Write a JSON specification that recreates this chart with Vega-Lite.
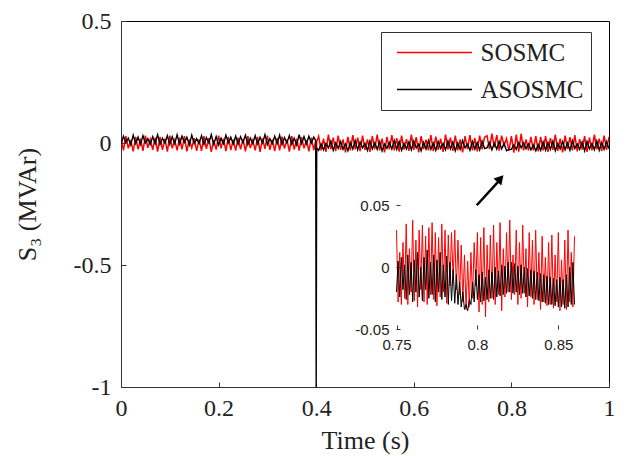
{
  "$schema": "https://vega.github.io/schema/vega-lite/v6.json",
  "width": 488,
  "height": 366,
  "autosize": "none",
  "padding": {"left": 121, "top": 21, "right": 17, "bottom": 69},
  "background": "white",
  "config": {"view": {"stroke": "black", "strokeWidth": 1}, "font": "Liberation Serif"},
  "data": {"values": [
{"t":0.000,"S":0.020,"A":-0.004},{"t":0.005,"S":-0.030,"A":0.028},{"t":0.010,"S":0.028,"A":0.002},{"t":0.015,"S":-0.022,"A":0.020},
{"t":0.020,"S":0.012,"A":-0.008},{"t":0.025,"S":-0.034,"A":0.032},{"t":0.030,"S":0.025,"A":-0.002},{"t":0.035,"S":-0.026,"A":0.024},
{"t":0.040,"S":0.018,"A":-0.006},{"t":0.045,"S":-0.032,"A":0.030},{"t":0.050,"S":0.030,"A":0.000},{"t":0.055,"S":-0.020,"A":0.018},
{"t":0.060,"S":0.015,"A":-0.005},{"t":0.065,"S":-0.028,"A":0.026},{"t":0.070,"S":0.022,"A":-0.003},{"t":0.075,"S":-0.035,"A":0.034},
{"t":0.080,"S":0.025,"A":-0.006},{"t":0.085,"S":-0.028,"A":0.020},{"t":0.090,"S":0.018,"A":0.000},{"t":0.095,"S":-0.035,"A":0.030},
{"t":0.100,"S":0.030,"A":-0.005},{"t":0.105,"S":-0.022,"A":0.026},{"t":0.110,"S":0.012,"A":-0.003},{"t":0.115,"S":-0.030,"A":0.034},
{"t":0.120,"S":0.022,"A":-0.004},{"t":0.125,"S":-0.026,"A":0.028},{"t":0.130,"S":0.028,"A":0.002},{"t":0.135,"S":-0.034,"A":0.024},
{"t":0.140,"S":0.015,"A":-0.008},{"t":0.145,"S":-0.020,"A":0.032},{"t":0.150,"S":0.020,"A":-0.002},{"t":0.155,"S":-0.032,"A":0.018},
{"t":0.160,"S":0.015,"A":-0.002},{"t":0.165,"S":-0.032,"A":0.030},{"t":0.170,"S":0.028,"A":-0.006},{"t":0.175,"S":-0.024,"A":0.022},
{"t":0.180,"S":0.020,"A":0.001},{"t":0.185,"S":-0.036,"A":0.034},{"t":0.190,"S":0.012,"A":-0.005},{"t":0.195,"S":-0.027,"A":0.026},
{"t":0.200,"S":0.030,"A":-0.008},{"t":0.205,"S":-0.022,"A":0.020},{"t":0.210,"S":0.018,"A":-0.003},{"t":0.215,"S":-0.033,"A":0.032},
{"t":0.220,"S":0.025,"A":0.000},{"t":0.225,"S":-0.029,"A":0.024},{"t":0.230,"S":0.014,"A":-0.004},{"t":0.235,"S":-0.031,"A":0.028},
{"t":0.240,"S":0.022,"A":-0.005},{"t":0.245,"S":-0.026,"A":0.026},{"t":0.250,"S":0.016,"A":0.002},{"t":0.255,"S":-0.034,"A":0.032},
{"t":0.260,"S":0.028,"A":-0.007},{"t":0.265,"S":-0.021,"A":0.020},{"t":0.270,"S":0.012,"A":-0.002},{"t":0.275,"S":-0.030,"A":0.030},
{"t":0.280,"S":0.025,"A":-0.004},{"t":0.285,"S":-0.036,"A":0.024},{"t":0.290,"S":0.019,"A":0.000},{"t":0.295,"S":-0.024,"A":0.034},
{"t":0.300,"S":0.030,"A":-0.006},{"t":0.305,"S":-0.028,"A":0.018},{"t":0.310,"S":0.015,"A":-0.003},{"t":0.315,"S":-0.033,"A":0.028},
{"t":0.320,"S":0.020,"A":-0.002},{"t":0.325,"S":-0.030,"A":0.032},{"t":0.330,"S":0.026,"A":-0.006},{"t":0.335,"S":-0.023,"A":0.022},
{"t":0.340,"S":0.014,"A":0.001},{"t":0.345,"S":-0.035,"A":0.030},{"t":0.350,"S":0.028,"A":-0.005},{"t":0.355,"S":-0.027,"A":0.020},
{"t":0.360,"S":0.018,"A":-0.008},{"t":0.365,"S":-0.031,"A":0.034},{"t":0.370,"S":0.024,"A":-0.003},{"t":0.375,"S":-0.022,"A":0.026},
{"t":0.380,"S":0.012,"A":-0.004},{"t":0.385,"S":-0.034,"A":0.028},{"t":0.390,"S":0.022,"A":0.000},{"t":0.395,"S":-0.029,"A":0.024},
{"t":0.399,"S":0.010,"A":0.010},{"t":0.400,"S":-0.080,"A":-1.000},{"t":0.401,"S":0.005,"A":-0.020},
{"t":0.405,"S":0.028,"A":-0.030},{"t":0.410,"S":-0.030,"A":-0.004},{"t":0.415,"S":0.018,"A":-0.028},{"t":0.420,"S":-0.036,"A":-0.002},
{"t":0.425,"S":0.034,"A":-0.020},{"t":0.430,"S":-0.025,"A":0.008},{"t":0.435,"S":0.022,"A":-0.030},{"t":0.440,"S":-0.033,"A":0.000},
{"t":0.445,"S":0.030,"A":-0.022},{"t":0.450,"S":-0.028,"A":0.006},{"t":0.455,"S":0.015,"A":-0.026},{"t":0.460,"S":-0.038,"A":-0.004},
{"t":0.465,"S":0.025,"A":-0.032},{"t":0.470,"S":-0.030,"A":0.002},{"t":0.475,"S":0.032,"A":-0.025},{"t":0.480,"S":-0.026,"A":0.010},
{"t":0.485,"S":0.022,"A":-0.028},{"t":0.490,"S":-0.033,"A":0.004},{"t":0.495,"S":0.030,"A":-0.020},{"t":0.500,"S":-0.028,"A":-0.002},
{"t":0.505,"S":0.015,"A":-0.030},{"t":0.510,"S":-0.036,"A":0.008},{"t":0.515,"S":0.028,"A":-0.024},{"t":0.520,"S":-0.025,"A":0.000},
{"t":0.525,"S":0.034,"A":-0.026},{"t":0.530,"S":-0.030,"A":0.006},{"t":0.535,"S":0.018,"A":-0.032},{"t":0.540,"S":-0.038,"A":-0.004},
{"t":0.545,"S":0.025,"A":-0.022},{"t":0.550,"S":-0.026,"A":0.002},{"t":0.555,"S":0.032,"A":-0.025},{"t":0.560,"S":-0.030,"A":0.010},
{"t":0.565,"S":0.020,"A":-0.026},{"t":0.570,"S":-0.035,"A":0.006},{"t":0.575,"S":0.030,"A":-0.030},{"t":0.580,"S":-0.027,"A":-0.002},
{"t":0.585,"S":0.016,"A":-0.024},{"t":0.590,"S":-0.032,"A":0.004},{"t":0.595,"S":0.034,"A":-0.028},{"t":0.600,"S":-0.028,"A":0.008},
{"t":0.605,"S":0.024,"A":-0.020},{"t":0.610,"S":-0.038,"A":-0.004},{"t":0.615,"S":0.028,"A":-0.032},{"t":0.620,"S":-0.025,"A":0.002},
{"t":0.625,"S":0.014,"A":-0.025},{"t":0.630,"S":-0.030,"A":0.010},{"t":0.635,"S":0.032,"A":-0.026},{"t":0.640,"S":-0.033,"A":0.000},
{"t":0.645,"S":0.026,"A":-0.030},{"t":0.650,"S":-0.028,"A":0.006},{"t":0.655,"S":0.018,"A":-0.022},{"t":0.660,"S":-0.036,"A":-0.002},
{"t":0.665,"S":0.034,"A":-0.028},{"t":0.670,"S":-0.026,"A":0.008},{"t":0.675,"S":0.022,"A":-0.024},{"t":0.680,"S":-0.032,"A":0.004},
{"t":0.685,"S":0.030,"A":-0.032},{"t":0.690,"S":-0.030,"A":0.000},{"t":0.695,"S":0.015,"A":-0.026},{"t":0.700,"S":-0.038,"A":0.010},
{"t":0.705,"S":0.028,"A":-0.020},{"t":0.710,"S":-0.025,"A":-0.004},{"t":0.715,"S":0.032,"A":-0.030},{"t":0.720,"S":-0.030,"A":0.006},
{"t":0.725,"S":0.020,"A":-0.025},{"t":0.730,"S":-0.034,"A":0.002},{"t":0.735,"S":0.030,"A":-0.028},{"t":0.740,"S":-0.026,"A":0.008},
{"t":0.745,"S":0.024,"A":-0.022},
{"t":0.750,"S":0.030,"A":-0.020},{"t":0.751,"S":-0.028,"A":0.005},{"t":0.752,"S":0.012,"A":-0.024},{"t":0.753,"S":-0.030,"A":0.008},
{"t":0.754,"S":0.020,"A":-0.018},{"t":0.755,"S":-0.025,"A":0.002},{"t":0.756,"S":0.035,"A":-0.026},{"t":0.757,"S":-0.030,"A":0.010},
{"t":0.758,"S":0.015,"A":-0.022},{"t":0.759,"S":-0.020,"A":0.004},{"t":0.760,"S":0.038,"A":-0.028},{"t":0.761,"S":-0.027,"A":0.006},
{"t":0.762,"S":0.022,"A":-0.020},{"t":0.763,"S":-0.032,"A":0.012},{"t":0.764,"S":0.030,"A":-0.024},{"t":0.765,"S":-0.018,"A":0.000},
{"t":0.766,"S":0.034,"A":-0.027},{"t":0.767,"S":-0.028,"A":0.008},{"t":0.768,"S":0.025,"A":-0.018},{"t":0.769,"S":-0.030,"A":0.014},
{"t":0.770,"S":0.032,"A":-0.025},{"t":0.771,"S":-0.022,"A":0.004},{"t":0.772,"S":0.036,"A":-0.022},{"t":0.773,"S":-0.026,"A":0.010},
{"t":0.774,"S":0.028,"A":-0.028},{"t":0.775,"S":-0.031,"A":0.006},{"t":0.776,"S":0.024,"A":-0.020},{"t":0.777,"S":-0.024,"A":0.012},
{"t":0.778,"S":0.035,"A":-0.026},{"t":0.779,"S":-0.020,"A":0.002},{"t":0.780,"S":0.030,"A":-0.024},{"t":0.781,"S":-0.029,"A":0.009},
{"t":0.782,"S":0.026,"A":-0.030},{"t":0.783,"S":-0.015,"A":0.004},{"t":0.784,"S":0.028,"A":-0.027},{"t":0.785,"S":-0.010,"A":-0.002},
{"t":0.786,"S":0.030,"A":-0.029},{"t":0.787,"S":-0.018,"A":-0.006},{"t":0.788,"S":0.022,"A":-0.030},{"t":0.789,"S":-0.022,"A":-0.012},
{"t":0.790,"S":0.018,"A":-0.032},{"t":0.791,"S":-0.028,"A":-0.020},{"t":0.792,"S":0.010,"A":-0.034},{"t":0.793,"S":-0.034,"A":-0.030},
{"t":0.794,"S":0.005,"A":-0.035},{"t":0.795,"S":-0.032,"A":-0.026},{"t":0.796,"S":0.012,"A":-0.030},{"t":0.797,"S":-0.025,"A":-0.012},
{"t":0.798,"S":0.020,"A":-0.028},{"t":0.799,"S":-0.015,"A":-0.002},{"t":0.800,"S":0.028,"A":-0.026},{"t":0.801,"S":-0.036,"A":-0.006},
{"t":0.802,"S":0.024,"A":-0.028},{"t":0.803,"S":-0.030,"A":-0.004},{"t":0.804,"S":0.032,"A":-0.027},{"t":0.805,"S":-0.040,"A":-0.008},
{"t":0.806,"S":0.018,"A":-0.026},{"t":0.807,"S":-0.028,"A":-0.002},{"t":0.808,"S":0.026,"A":-0.025},{"t":0.809,"S":-0.025,"A":-0.004},
{"t":0.810,"S":0.034,"A":-0.026},{"t":0.811,"S":-0.030,"A":0.000},{"t":0.812,"S":0.020,"A":-0.024},{"t":0.813,"S":-0.022,"A":-0.003},
{"t":0.814,"S":0.036,"A":-0.023},{"t":0.815,"S":-0.035,"A":0.002},{"t":0.816,"S":0.015,"A":-0.022},{"t":0.817,"S":-0.024,"A":0.001},
{"t":0.818,"S":0.028,"A":-0.021},{"t":0.819,"S":-0.020,"A":0.004},{"t":0.820,"S":0.038,"A":-0.020},{"t":0.821,"S":-0.026,"A":0.004},
{"t":0.822,"S":0.010,"A":-0.021},{"t":0.823,"S":-0.022,"A":0.003},{"t":0.824,"S":0.030,"A":-0.020},{"t":0.825,"S":-0.030,"A":0.001},
{"t":0.826,"S":0.020,"A":-0.022},{"t":0.827,"S":-0.025,"A":0.002},{"t":0.828,"S":0.034,"A":-0.021},{"t":0.829,"S":-0.021,"A":0.000},
{"t":0.830,"S":0.015,"A":-0.024},{"t":0.831,"S":-0.032,"A":-0.001},{"t":0.832,"S":0.028,"A":-0.023},{"t":0.833,"S":-0.024,"A":-0.002},
{"t":0.834,"S":0.022,"A":-0.025},{"t":0.835,"S":-0.030,"A":-0.003},{"t":0.836,"S":0.030,"A":-0.026},{"t":0.837,"S":-0.026,"A":-0.004},
{"t":0.838,"S":0.012,"A":-0.027},{"t":0.839,"S":-0.034,"A":-0.005},{"t":0.840,"S":0.025,"A":-0.028},{"t":0.841,"S":-0.028,"A":-0.006},
{"t":0.842,"S":0.008,"A":-0.029},{"t":0.843,"S":-0.031,"A":-0.007},{"t":0.844,"S":0.020,"A":-0.030},{"t":0.845,"S":-0.030,"A":-0.008},
{"t":0.846,"S":0.026,"A":-0.030},{"t":0.847,"S":-0.033,"A":-0.009},{"t":0.848,"S":0.010,"A":-0.031},{"t":0.849,"S":-0.028,"A":-0.010},
{"t":0.850,"S":0.028,"A":-0.032},{"t":0.851,"S":-0.035,"A":-0.008},{"t":0.852,"S":0.006,"A":-0.032},{"t":0.853,"S":-0.030,"A":-0.010},
{"t":0.854,"S":0.022,"A":-0.033},{"t":0.855,"S":-0.034,"A":-0.006},{"t":0.856,"S":0.030,"A":-0.032},{"t":0.857,"S":-0.028,"A":0.000},
{"t":0.858,"S":0.012,"A":-0.030},{"t":0.859,"S":-0.032,"A":0.004},{"t":0.860,"S":0.025,"A":-0.030},
{"t":0.865,"S":-0.030,"A":0.004},{"t":0.870,"S":0.028,"A":-0.030},{"t":0.875,"S":-0.036,"A":0.002},{"t":0.880,"S":0.020,"A":-0.026},
{"t":0.885,"S":-0.028,"A":0.008},{"t":0.890,"S":0.034,"A":-0.032},{"t":0.895,"S":-0.032,"A":-0.002},{"t":0.900,"S":0.018,"A":-0.024},
{"t":0.905,"S":-0.038,"A":0.006},{"t":0.910,"S":0.030,"A":-0.028},{"t":0.915,"S":-0.025,"A":0.000},{"t":0.920,"S":0.024,"A":-0.030},
{"t":0.925,"S":-0.030,"A":0.010},{"t":0.930,"S":0.032,"A":-0.022},{"t":0.935,"S":-0.034,"A":-0.004},{"t":0.940,"S":0.016,"A":-0.026},
{"t":0.945,"S":-0.027,"A":0.004},{"t":0.950,"S":0.028,"A":-0.032},{"t":0.955,"S":-0.036,"A":0.006},{"t":0.960,"S":0.022,"A":-0.024},
{"t":0.965,"S":-0.030,"A":-0.002},{"t":0.970,"S":0.034,"A":-0.028},{"t":0.975,"S":-0.026,"A":0.008},{"t":0.980,"S":0.018,"A":-0.030},
{"t":0.985,"S":-0.033,"A":0.002},{"t":0.990,"S":0.030,"A":-0.026},{"t":0.995,"S":-0.028,"A":0.006},{"t":1.000,"S":0.025,"A":-0.024}
  ]},
  "layer": [
    {
      "transform": [{"filter": "datum.t < 0.7495 || datum.t > 0.8605 || round(datum.t * 1000) % 5 == 0"}],
      "encoding": {
        "x": {"field": "t", "type": "quantitative",
          "scale": {"domain": [0, 1], "nice": false, "zero": false},
          "axis": {"title": "Time (s)", "values": [0, 0.2, 0.4, 0.6, 0.8, 1], "format": "~g",
            "labelFont": "Liberation Serif", "labelFontSize": 24, "labelColor": "#222",
            "titleFont": "Liberation Serif", "titleFontSize": 26, "titleFontWeight": "normal", "titleColor": "#222",
            "tickSize": -5, "tickColor": "#333", "labelPadding": 14, "titlePadding": 7,
            "domainColor": "#333", "grid": false, "labelFlush": false}}
      },
      "layer": [
        {"mark": {"type": "line", "strokeWidth": 1.5, "clip": true},
         "encoding": {
           "y": {"field": "S", "type": "quantitative",
             "scale": {"domain": [-1, 0.5], "nice": false, "zero": false},
             "axis": {"title": "S₃ (MVAr)", "values": [-1, -0.5, 0, 0.5],
               "labelExpr": "replace(format(datum.value, '~g'), '\u2212', '-')",
               "labelFont": "Liberation Serif", "labelFontSize": 24, "labelColor": "#222",
               "titleFont": "Liberation Serif", "titleFontSize": 26, "titleFontWeight": "normal", "titleColor": "#222",
               "tickSize": -5, "tickColor": "#333", "labelPadding": 15, "titlePadding": 33,
               "domainColor": "#333", "grid": false, "labelFlush": false}},
           "color": {"datum": "SOSMC", "type": "nominal",
             "scale": {"domain": ["SOSMC", "ASOSMC"], "range": ["#ff0000", "#000000"]},
             "legend": {"orient": "none", "legendX": 260, "legendY": 11, "title": null,
               "symbolType": "M-3,0H3", "symbolSize": 625, "symbolStrokeWidth": 1.5, "symbolOffset": 33,
               "labelFont": "Liberation Serif", "labelFontSize": 25, "labelColor": "#222",
               "labelOffset": 32.5, "strokeColor": "#333", "fillColor": "white",
               "padding": 7, "rowPadding": 10, "labelLimit": 300}}
         }},
        {"mark": {"type": "line", "strokeWidth": 1.4, "clip": true},
         "encoding": {
           "y": {"field": "A", "type": "quantitative"},
           "color": {"datum": "ASOSMC", "type": "nominal"}
         }}
      ]
    },
    {
      "encoding": {
        "x": {"field": "t", "type": "quantitative",
          "scale": {"domain": [0.75, 0.86], "range": [275.5, 453.5], "nice": false, "zero": false},
          "axis": {"orient": "bottom", "offset": -58, "title": null, "values": [0.75, 0.8, 0.85], "format": "~g",
            "labelFont": "Liberation Sans", "labelFontSize": 15, "labelColor": "#222",
            "tickSize": -4, "tickColor": "#333", "labelPadding": 12, "domain": false, "grid": false, "labelFlush": false}},
        "y": {"field": "S", "type": "quantitative",
          "scale": {"domain": [-0.05, 0.05], "range": [308.3, 184.3], "nice": false, "zero": false},
          "axis": {"orient": "left", "offset": -275, "title": null, "values": [-0.05, 0, 0.05],
            "labelExpr": "replace(format(datum.value, '~g'), '\u2212', '-')",
            "labelFont": "Liberation Sans", "labelFontSize": 15, "labelColor": "#222",
            "tickSize": -4, "tickColor": "#333", "labelPadding": 11, "domain": false, "grid": false, "labelFlush": false}}
      },
      "layer": [
        {"data": {"values": [{}]},
         "mark": {"type": "rect", "fill": "white", "stroke": null},
         "encoding": {
           "x": {"datum": 0.75, "type": "quantitative"},
           "x2": {"datum": 0.86},
           "y": {"datum": -0.05, "type": "quantitative"},
           "y2": {"datum": 0.05}
         }},
        {"transform": [{"filter": "datum.t >= 0.75 && datum.t <= 0.86"}],
         "mark": {"type": "line", "strokeWidth": 1, "color": "#ff0000"},
         "encoding": {"y": {"field": "S", "type": "quantitative"}}},
        {"transform": [{"filter": "datum.t >= 0.75 && datum.t <= 0.86"}],
         "mark": {"type": "line", "strokeWidth": 1, "color": "#000000"},
         "encoding": {"y": {"field": "A", "type": "quantitative"}}},
        {"data": {"values": [{}]},
         "mark": {"type": "rect", "fill": null, "stroke": "#222", "strokeWidth": 1.2},
         "encoding": {
           "x": {"datum": 0.75, "type": "quantitative"},
           "x2": {"datum": 0.86},
           "y": {"datum": -0.05, "type": "quantitative"},
           "y2": {"datum": 0.05}
         }}
      ]
    },
    {
      "data": {"values": [{}]},
      "layer": [
        {"mark": {"type": "rule", "strokeWidth": 2.5, "color": "black"},
         "encoding": {
           "x": {"datum": 0.729, "type": "quantitative", "scale": {"domain": [0, 1], "nice": false, "zero": false}, "axis": null},
           "x2": {"datum": 0.776},
           "y": {"datum": -0.255, "type": "quantitative", "scale": {"domain": [-1, 0.5], "nice": false, "zero": false}, "axis": null},
           "y2": {"datum": -0.152}
         }},
        {"mark": {"type": "point", "shape": "triangle-up", "filled": true, "size": 110, "angle": 42, "color": "black", "opacity": 1},
         "encoding": {
           "x": {"datum": 0.7775, "type": "quantitative"},
           "y": {"datum": -0.146, "type": "quantitative"}
         }}
      ]
    }
  ],
  "resolve": {"scale": {"x": "independent", "y": "independent"}, "axis": {"x": "independent", "y": "independent"}}
}
